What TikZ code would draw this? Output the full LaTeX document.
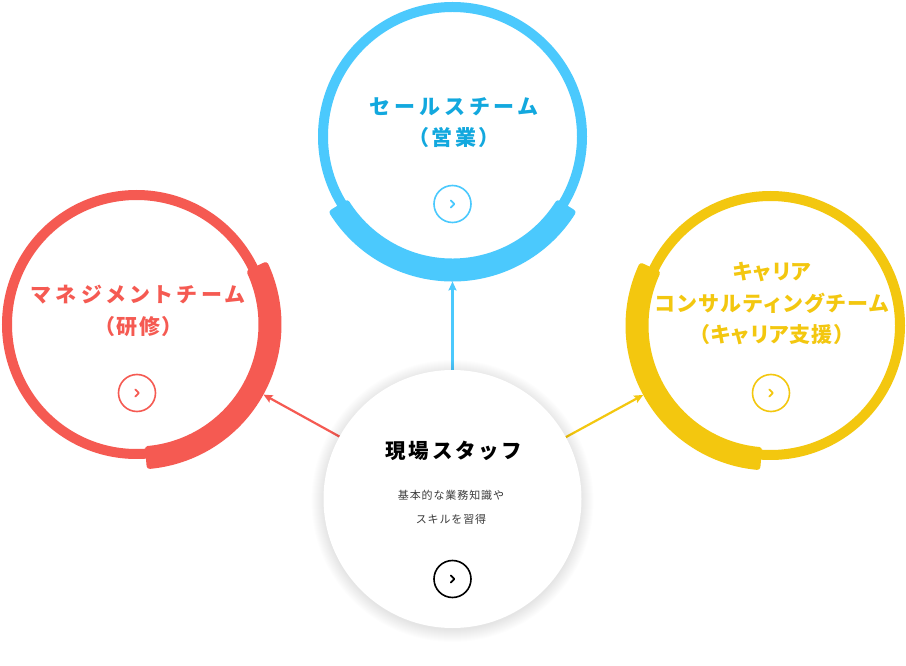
\documentclass[tikz,border=0pt]{standalone}
\usepackage{fontspec}
\newfontfamily\jpt[RawFeature=+palt]{Noto Sans CJK JP}
\newfontfamily\jps[LetterSpace=8]{Noto Sans CJK JP}
\newfontfamily\jpc[LetterSpace=13]{Noto Sans CJK JP}
\newcommand\lsp[2]{{\addfontfeature{LetterSpace=#1}#2}}
\usetikzlibrary{calc,arrows.meta}
\definecolor{cblue}{HTML}{4BC9FD}
\definecolor{cbluetext}{HTML}{12A8DE}
\definecolor{cred}{HTML}{F55A52}
\definecolor{cyel}{HTML}{F3C70F}
\definecolor{subgray}{HTML}{3A3A3A}
\newcommand\bandsector[4]{%
  \filldraw[#4, line width=6pt, line join=round] ($(#1)+(#2:142)$) arc[start angle=#2, end angle=#3, radius=142]
    -- ($(#1)+(#3:125)$) arc[start angle=#3, end angle=#2, radius=125] -- cycle;}
\newcommand\chev[2]{%
  \draw[#2, line width=1.7pt, line cap=round, line join=round] ($(#1)+(-1.8,3.6)$) -- ++(3.6,-3.6) -- ++(-3.6,-3.6);}
\tikzset{
  ring/.style={circle, draw=#1, line width=10pt, fill=white, minimum size=259pt, inner sep=0pt},
  btn/.style={circle, draw=#1, line width=1.6pt, minimum size=37pt, inner sep=0pt},
  ttl/.style={text=#1, align=center, font=\jpt\bfseries\fontsize{21}{31.5}\selectfont, inner sep=0pt},
  arr/.style={draw=#1, line width=2.2pt, -{Stealth[length=9pt, width=8pt, inset=1.5pt]}},
}
\begin{document}
\begin{tikzpicture}[x=1pt,y=1pt]
\useasboundingbox[fill=white] (0,0) rectangle (906,665);
% rings
\node[ring=cblue] (blue) at (452.5,528.5) {};
\node[ring=cred] (red) at (136.5,340.5) {};
\node[ring=cyel] (yel) at (770.5,339.5) {};
\bandsector{blue.center}{212.3}{327.7}{cblue}
\bandsector{red.center}{-84.7}{24.7}{cred}
\bandsector{yel.center}{155.3}{264.7}{cyel}
% centre circle coordinates
\coordinate (ccpos) at (452.5,166);
\coordinate (tipb) at ($(blue.center)!145pt!(ccpos)$);
\coordinate (tipr) at ($(red.center)!145pt!(ccpos)$);
\coordinate (tipy) at ($(yel.center)!145pt!(ccpos)$);
\coordinate (stb) at ($(ccpos)!129pt!(blue.center)$);
\coordinate (str) at ($(ccpos)!129pt!(red.center)$);
\coordinate (sty) at ($(ccpos)!129pt!(yel.center)$);
\draw[arr=cblue] (stb) -- (tipb);
\draw[arr=cred] (str) -- (tipr);
\draw[arr=cyel] (sty) -- (tipy);
% shadow
\foreach \i in {1,...,13} {\fill[black, opacity=0.006] ($(ccpos)+(0,-2)$) circle (128+\i);}
\node[circle, fill=white, minimum size=258pt, inner sep=0pt] (cc) at (ccpos) {};
% titles
\node[ttl=cbluetext] (tblue) at (454,542.5) {\lsp{23}{セールスチーム}\\\lsp{14}{（営業）}};
\node[ttl=cred] (tred) at (138.5,354) {\lsp{23}{マネジメントチーム}\\\lsp{8}{（研修）}};
\node[ttl=cyel] (tyel) at (772,361) {\lsp{5}{キャリア}\\\lsp{10}{コンサルティングチーム}\\\lsp{5}{（キャリア支援）}};
\node[ttl=black, font=\jpc\bfseries\fontsize{20.5}{30}\selectfont] (tcc) at (454,214) {現場スタッフ};
\node[text=subgray, align=center, inner sep=0pt, font=\jps\fontsize{11}{24}\selectfont] (sub) at (451,158) {基本的な業務知識や\\スキルを習得};
% buttons
\node[btn=cblue] (bb) at (452.5,461) {};
\chev{bb}{cblue}
\node[btn=cred] (rb) at (137,272) {};
\chev{rb}{cred}
\node[btn=cyel] (yb) at (771,272) {};
\chev{yb}{cyel}
\node[btn=black] (cb) at (452.5,86) {};
\chev{cb}{black}
\end{tikzpicture}
\end{document}
